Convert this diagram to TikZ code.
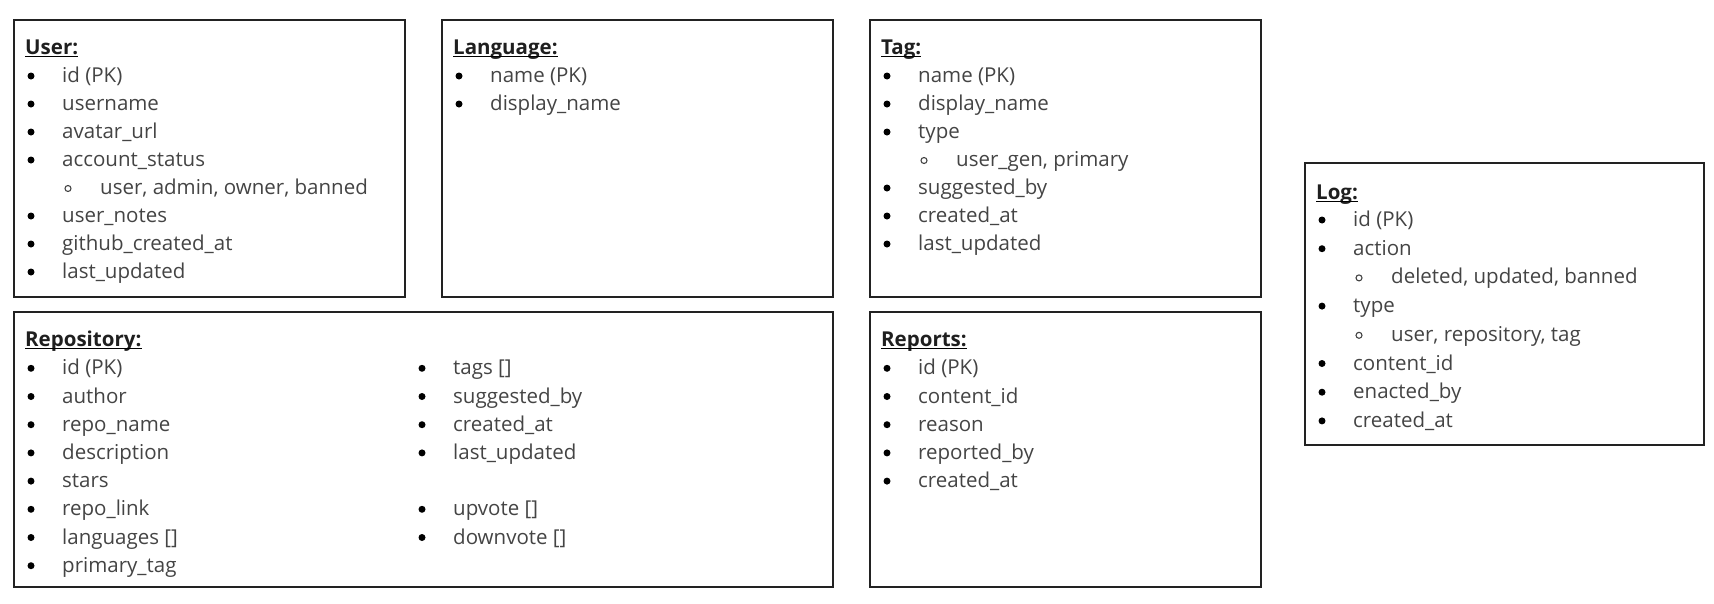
\documentclass[tikz,border=0pt]{standalone}
\usepackage{fontspec}
\setmainfont{Open Sans}
\definecolor{txt}{RGB}{68,68,68}
\definecolor{edge}{RGB}{34,34,34}
\newcounter{fc}
\tikzset{
  tbox/.style={draw=edge, line width=1.8pt, inner sep=0pt, anchor=north west},
  ttl/.style={font=\fontsize{20.5}{24}\selectfont\bfseries, text=black!88, inner sep=0pt, anchor=base west},
  fld/.style={font=\fontsize{20.5}{24}\selectfont, text=txt, inner sep=0pt, anchor=base west},
  bul/.style={circle, fill=black, inner sep=0pt, minimum size=7pt},
  sbul/.style={circle, draw=txt, line width=1.1pt, inner sep=0pt, minimum size=6pt},
}
\newcommand\boxat[5]{\node[tbox, minimum width=#4pt, minimum height=#5pt] (#1) at (#2,#3) {};}
\newcommand\ttlat[4]{\node[ttl] (#1) at (#2+12,#3) {#4};
  \draw[line width=1.3pt] ([yshift=-2.5pt]#1.base west) -- ([yshift=-2.5pt]#1.base east);}
\newcommand\fld[3]{\stepcounter{fc}%
  \node[bul] (b\arabic{fc}) at (#1+18,#2-6.5) {};
  \node[fld] (f\arabic{fc}) at (#1+49,#2) {#3};}
\newcommand\sfld[3]{\stepcounter{fc}%
  \node[sbul] (b\arabic{fc}) at (#1+55,#2-6) {};
  \node[fld] (f\arabic{fc}) at (#1+87,#2) {#3};}
\begin{document}
\begin{tikzpicture}[x=1pt,y=-1pt]
\useasboundingbox (0,0) rectangle (1714,603);
% boxes
\boxat{user}{13}{19}{391}{277}
\boxat{lang}{441}{19}{391}{277}
\boxat{tag}{869}{19}{391}{277}
\boxat{repo}{13}{311}{819}{275}
\boxat{rep}{869}{311}{391}{275}
\boxat{log}{1304}{162}{399}{282}
% User
\ttlat{tuser}{13}{54}{User:}
\fld{13}{82.5}{id (PK)}
\fld{13}{110.5}{username}
\fld{13}{138.5}{avatar\_url}
\fld{13}{166.5}{account\_status}
\sfld{13}{194.5}{user, admin, owner, banned}
\fld{13}{222.5}{user\_notes}
\fld{13}{250.5}{github\_created\_at}
\fld{13}{278.5}{last\_updated}
% Language
\ttlat{tlang}{441}{54}{Language:}
\fld{441}{82.5}{name (PK)}
\fld{441}{110.5}{display\_name}
% Tag
\ttlat{ttag}{869}{54}{Tag:}
\fld{869}{82.5}{name (PK)}
\fld{869}{110.5}{display\_name}
\fld{869}{138.5}{type}
\sfld{869}{166.5}{user\_gen, primary}
\fld{869}{194.5}{suggested\_by}
\fld{869}{222.5}{created\_at}
\fld{869}{250.5}{last\_updated}
% Repository
\ttlat{trepo}{13}{346}{Repository:}
\fld{13}{374.8}{id (PK)}
\fld{13}{403}{author}
\fld{13}{431.2}{repo\_name}
\fld{13}{459.4}{description}
\fld{13}{487.6}{stars}
\fld{13}{515.8}{repo\_link}
\fld{13}{544}{languages []}
\fld{13}{572.2}{primary\_tag}
\fld{404}{374.8}{tags []}
\fld{404}{403}{suggested\_by}
\fld{404}{431.2}{created\_at}
\fld{404}{459.4}{last\_updated}
\fld{404}{515.8}{upvote []}
\fld{404}{544}{downvote []}
% Reports
\ttlat{trep}{869}{346}{Reports:}
\fld{869}{374.8}{id (PK)}
\fld{869}{403}{content\_id}
\fld{869}{431.2}{reason}
\fld{869}{459.4}{reported\_by}
\fld{869}{487.6}{created\_at}
% Log
\ttlat{tlog}{1304}{199}{Log:}
\fld{1304}{226.5}{id (PK)}
\fld{1304}{255.2}{action}
\sfld{1304}{283.9}{deleted, updated, banned}
\fld{1304}{312.6}{type}
\sfld{1304}{341.3}{user, repository, tag}
\fld{1304}{370}{content\_id}
\fld{1304}{398.7}{enacted\_by}
\fld{1304}{427.4}{created\_at}
\end{tikzpicture}
\end{document}
